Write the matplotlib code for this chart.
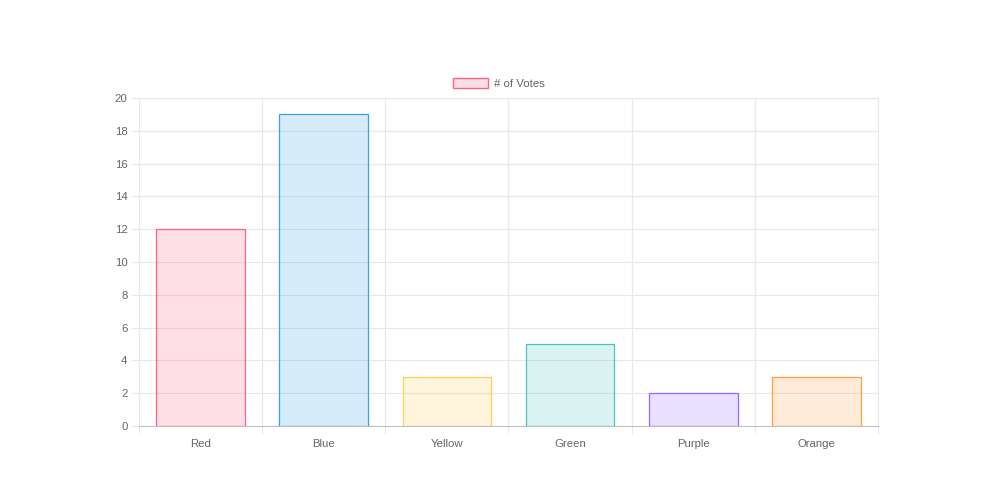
import matplotlib.pyplot as plt
from matplotlib.patches import Patch
from matplotlib.ticker import MultipleLocator, FixedLocator

labels = ['Red', 'Blue', 'Yellow', 'Green', 'Purple', 'Orange']
votes = [12, 19, 3, 5, 2, 3]
rgb = [(255, 99, 132), (54, 162, 235), (255, 206, 86),
       (75, 192, 192), (153, 102, 255), (255, 159, 64)]

plt.rcParams['font.family'] = ['Liberation Sans', 'DejaVu Sans']

fills = [(r / 255, g / 255, b / 255, 0.2) for r, g, b in rgb]
edges = [(r / 255, g / 255, b / 255, 1.0) for r, g, b in rgb]

fig = plt.figure(figsize=(10, 5.03), dpi=100)
ax = fig.add_axes([0.139, 0.1531, 0.739, 0.6521])

x = list(range(len(labels)))
ax.bar(x, votes, width=0.72, color=fills, edgecolor=edges, linewidth=0.9, zorder=3)

ax.set_xlim(-0.5, len(labels) - 0.5)
ax.set_ylim(0, 20)
ax.yaxis.set_major_locator(MultipleLocator(2))
ax.set_xticks(x)
ax.set_xticklabels(labels)
ax.xaxis.set_minor_locator(FixedLocator([i - 0.5 for i in range(len(labels) + 1)]))

grid_c = '#e8e8e8'
ax.grid(axis='y', which='major', color=grid_c, linewidth=0.9, alpha=1, zorder=0)
ax.grid(axis='x', which='minor', color=grid_c, linewidth=0.9, alpha=1, zorder=0)
ax.set_axisbelow(True)
ax.tick_params(axis='x', which='major', length=0, pad=9.3, labelsize=8.2, labelcolor='#666666')
ax.tick_params(axis='x', which='minor', length=5.8, width=0.75, color=grid_c)
ax.tick_params(axis='y', length=5.8, width=0.75, color=grid_c, pad=2.5,
               labelsize=8.2, labelcolor='#666666')

for s in ['top', 'right', 'left']:
    ax.spines[s].set_color(grid_c)
    ax.spines[s].set_linewidth(0.75)
ax.spines['bottom'].set_color('#bfbfbf')
ax.spines['bottom'].set_linewidth(0.75)

handle = Patch(facecolor=fills[0], edgecolor=edges[0], linewidth=1)
fig.legend([handle], ['# of Votes'], loc='center', bbox_to_anchor=(0.499, 0.834),
           frameon=False, fontsize=8.2, labelcolor='#666666',
           handlelength=3.1, handleheight=1.0, handletextpad=0.55)

plt.savefig('out.png', dpi=100)
